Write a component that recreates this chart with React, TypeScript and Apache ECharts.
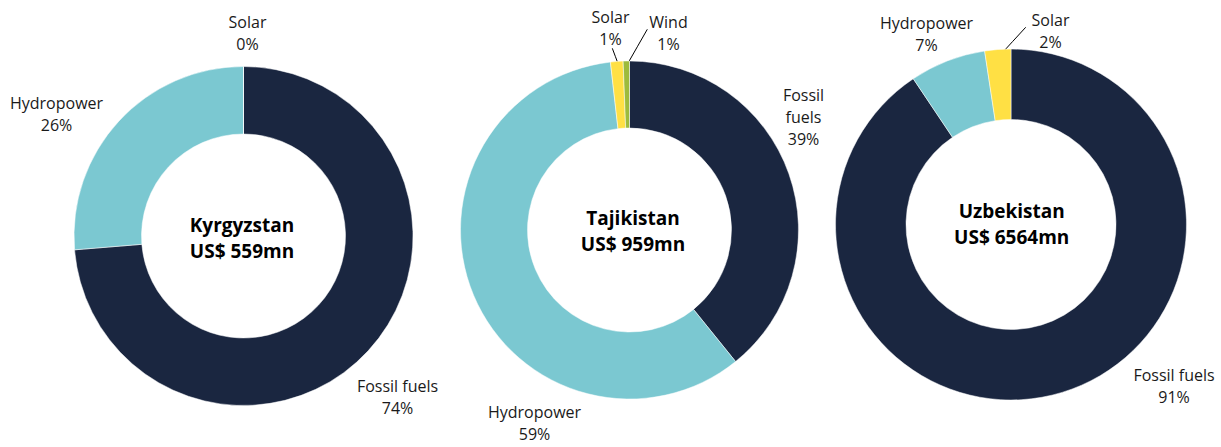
import React, { useEffect, useRef } from "react";
import * as echarts from "echarts";

// ---- Data ----
const kgCountry = "Kyrgyzstan";
const kgTotal = "US$ 559mn";
const kgCategories = ["Fossil fuels", "Hydropower", "Solar"];
const kgValues = [73.7, 26.3, 0];

const tjCountry = "Tajikistan";
const tjTotal = "US$ 959mn";
const tjCategories = ["Fossil fuels", "Hydropower", "Solar", "Wind"];
const tjValues = [39.2, 59.0, 1.2, 0.6];

const uzCountry = "Uzbekistan";
const uzTotal = "US$ 6564mn";
const uzCategories = ["Fossil fuels", "Hydropower", "Solar"];
const uzValues = [90.6, 7.0, 2.4];

// ---- Styles / layout ----
const COLORS: Record<string, string> = {
  "Fossil fuels": "#1a2640",
  Hydropower: "#7bc8d1",
  Solar: "#ffe044",
  Wind: "#9dbb3c",
};

type Layout = {
  center: [number, number];
  radius: [number, number];
  labelOffsets: [number, number][];
  leaders: ([number, number][] | null)[];
  wrap: boolean[];
  titleOffset: [number, number];
};

const kgLayout: Layout = {
  center: [243.5, 236],
  radius: [102, 169.5],
  labelOffsets: [[154, 161], [-187, -121.7], [4, -203.5]],
  leaders: [null, null, null],
  wrap: [false, false, false],
  titleOffset: [-1.5, 2.3],
};
const tjLayout: Layout = {
  center: [629.5, 230],
  radius: [102, 169],
  labelOffsets: [[174, -113], [-95, 193], [-19, -202.5], [39, -197.5]],
  leaders: [null, null, [[-17.2, -181.7], [-11.2, -165.7]], [[17.8, -200.7], [-2.2, -165.7]]],
  wrap: [true, false, false, false],
  titleOffset: [3.5, 0.5],
};
const uzLayout: Layout = {
  center: [1011, 224.5],
  radius: [105, 175.5],
  labelOffsets: [[163, 161.5], [-84.5, -191], [39.5, -193.5]],
  leaders: [null, null, [[14.7, -197.2], [-11.7, -168.5]]],
  wrap: [false, false, false],
  titleOffset: [0.7, -0.8],
};

const charts = [
  { country: kgCountry, total: kgTotal, categories: kgCategories, values: kgValues, layout: kgLayout },
  { country: tjCountry, total: tjTotal, categories: tjCategories, values: tjValues, layout: tjLayout },
  { country: uzCountry, total: uzTotal, categories: uzCategories, values: uzValues, layout: uzLayout },
];

const FONT = '"Open Sans", "Noto Sans", sans-serif';

export default function App() {
  const ref = useRef<HTMLDivElement>(null);
  useEffect(() => {
    if (!ref.current) return;
    const chart = echarts.init(ref.current, undefined, { renderer: "svg" });

    const series = charts.map((c) => ({
      type: "pie",
      name: c.country,
      center: c.layout.center,
      radius: c.layout.radius,
      startAngle: 90,
      clockwise: true,
      avoidLabelOverlap: false,
      animation: false,
      silent: true,
      itemStyle: { borderColor: "#ffffff", borderWidth: 0.5 },
      label: {
        show: true,
        position: "outside",
        color: "#1a1a1a",
        fontFamily: FONT,
        fontSize: 16,
        lineHeight: 22,
        formatter: (p: any) => {
          const nm = c.layout.wrap[p.dataIndex] ? p.name.replace(" ", "\n") : p.name;
          return `${nm}\n${Math.round(p.percent)}%`;
        },
      },
      labelLine: { show: false, lineStyle: { color: "#000000", width: 1 } },
      labelLayout: (params: any) => {
        const i = params.dataIndex;
        const [cx, cy] = c.layout.center;
        const off = c.layout.labelOffsets[i];
        const res: any = {
          x: cx + off[0],
          y: cy + off[1],
          align: "center",
          verticalAlign: "middle",
        };
        const ld = c.layout.leaders[i];
        if (ld) {
          const a = [cx + ld[0][0], cy + ld[0][1]];
          const b = [cx + ld[1][0], cy + ld[1][1]];
          res.labelLinePoints = [a, [(a[0] + b[0]) / 2, (a[1] + b[1]) / 2], b];
        }
        return res;
      },
      data: c.categories.map((name, i) => ({
        name,
        value: c.values[i],
        itemStyle: { color: COLORS[name] },
        labelLine: { show: !!c.layout.leaders[i] },
      })),
    }));

    const graphic = charts.map((c) => ({
      type: "text",
      x: c.layout.center[0] + c.layout.titleOffset[0],
      y: c.layout.center[1] + c.layout.titleOffset[1],
      style: {
        text: `${c.country}\n${c.total}`,
        align: "center",
        verticalAlign: "middle",
        fontFamily: FONT,
        fontWeight: "bold",
        fontSize: 19,
        lineHeight: 26,
        fill: "#000000",
      },
    }));

    chart.setOption({
      animation: false,
      backgroundColor: "#ffffff",
      series,
      graphic,
    } as any);

    return () => chart.dispose();
  }, []);

  return (
    <div
      ref={ref}
      style={{ position: "fixed", left: 0, top: 0, width: 1221, height: 447 }}
    />
  );
}
